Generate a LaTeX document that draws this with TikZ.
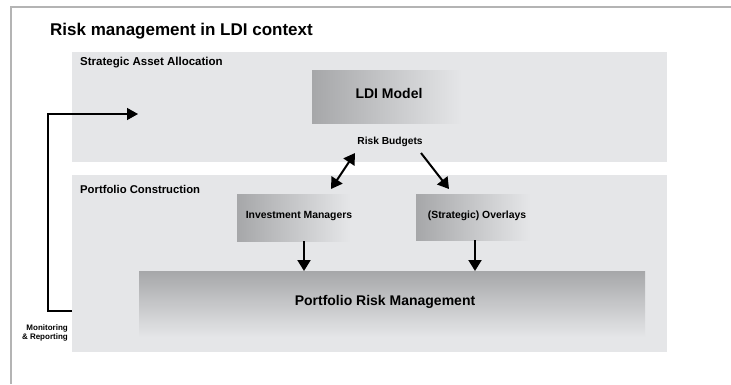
\documentclass[tikz,border=0pt]{standalone}
\usepackage{fontspec}
\setmainfont{Liberation Sans}
\usetikzlibrary{arrows.meta}
\definecolor{panel}{HTML}{E5E6E8}
\definecolor{boxdark}{HTML}{A6A7A9}
\definecolor{framec}{HTML}{B4B4B4}
\tikzset{
  panelbox/.style={fill=panel, draw=none},
  lbl/.style={inner sep=0pt, font=\bfseries, text=black},
  bigarrow/.style={line width=2pt, -{Triangle[length=11pt,width=13pt]}},
  dblarrow/.style={line width=2pt, {Triangle[length=11pt,width=13pt]}-{Triangle[length=11pt,width=13pt]}},
  fbarrow/.style={line width=1.4pt, -{Triangle[length=11pt,width=12pt]}},
}
\newcommand{\fs}[1]{\fontsize{#1}{#1}\selectfont}
\begin{document}
\begin{tikzpicture}[x=1pt,y=-1pt]
\useasboundingbox (0,0) rectangle (731,384);
% frame
\draw[framec, line width=1.5pt] (11,384) -- (11,7) -- (731,7);
% title
\node[lbl, anchor=west, font=\bfseries\fs{17}] (title) at (50,31) {Risk management in LDI context};
% panels
\fill[panelbox] (72,52) rectangle (667,162);
\fill[panelbox] (72,175) rectangle (667,352);
\node[lbl, anchor=west, font=\bfseries\fs{11.5}] (sa) at (80,63) {Strategic Asset Allocation};
\node[lbl, anchor=west, font=\bfseries\fs{11.3}] (pc) at (80,189) {Portfolio Construction};
% LDI model box
\shade[left color=boxdark, right color=panel] (312,70) rectangle (462,123);
\node[lbl, font=\bfseries\fs{14}] (ldi) at (389,93) {LDI Model};
\node[lbl, font=\bfseries\fs{10.2}] (rb) at (390,142) {Risk Budgets};
% investment managers
\shade[left color=boxdark, right color=panel] (237,194) rectangle (350,241);
\node[lbl, font=\bfseries\fs{10.4}] (im) at (299,216) {Investment Managers};
% overlays
\shade[left color=boxdark, right color=panel] (416,194) rectangle (530,240);
\node[lbl, font=\bfseries\fs{10.4}] (ov) at (477,216) {(Strategic) Overlays};
% portfolio risk management
\shade[top color=boxdark, bottom color=panel] (139,271) rectangle (645,337);
\node[lbl, font=\bfseries\fs{14}] (prm) at (385,302) {Portfolio Risk Management};
% monitoring label
\node[lbl, anchor=east, align=right, font=\bfseries\fs{8}] (mr) at (68,332.5) {Monitoring\\[1pt]\& Reporting};
% coordinates
\coordinate (rbL) at (355,153);
\coordinate (imT) at (331,189);
\coordinate (rbR) at (421,153);
\coordinate (ovT) at (449,189);
\coordinate (imB) at (304,241);
\coordinate (prmA) at (304,271);
\coordinate (ovB) at (475,240);
\coordinate (prmB) at (475,271);
\coordinate (fbS) at (72,311);
\coordinate (fbC) at (48,311);
\coordinate (fbE) at (138,114);
% arrows
\draw[dblarrow] (rbL) -- (imT);
\draw[bigarrow] (rbR) -- (ovT);
\draw[bigarrow] (imB) -- (prmA);
\draw[bigarrow] (ovB) -- (prmB);
\draw[fbarrow] (fbS) -- (fbC) |- (fbE);
\end{tikzpicture}
\end{document}
